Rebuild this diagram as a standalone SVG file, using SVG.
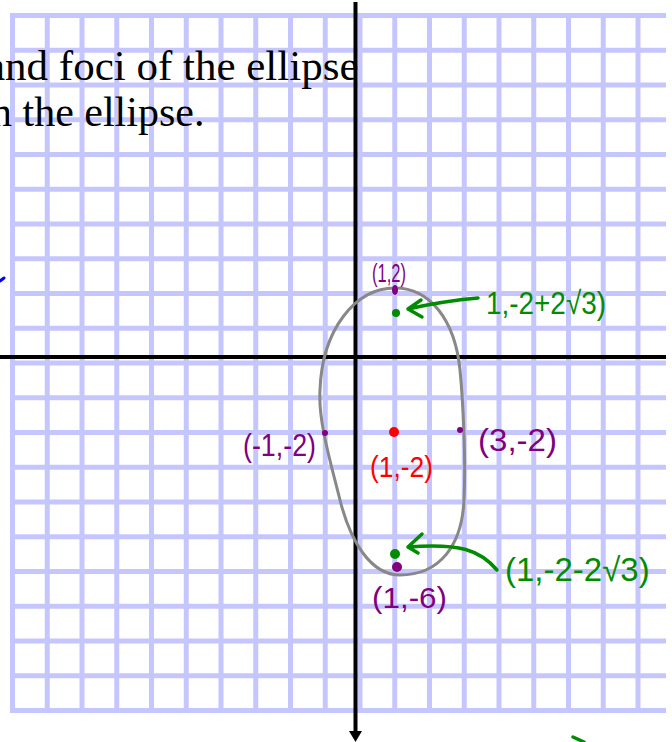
<svg xmlns="http://www.w3.org/2000/svg" width="672" height="742" viewBox="0 0 672 742">
<style>
.grid line{stroke:#c6c6ff;stroke-width:5}
.axis{stroke:#000;stroke-width:4}
.q{font-family:"Liberation Serif","Times New Roman",serif;fill:#000}
.h{font-family:"Liberation Sans",Arial,sans-serif}
.pur{fill:#800080}
.grn{fill:#008c00}
.red{fill:#ff0000}
.garrow{fill:none;stroke:#008c00;stroke-width:3.5;stroke-linecap:round;stroke-linejoin:round}
</style>
<rect width="672" height="742" fill="#fff"/>
<g id="grid" class="grid">
<line x1="12.5" y1="13" x2="12.5" y2="713"/>
<line x1="47.25" y1="13" x2="47.25" y2="713"/>
<line x1="82" y1="13" x2="82" y2="713"/>
<line x1="116.75" y1="13" x2="116.75" y2="713"/>
<line x1="151.5" y1="13" x2="151.5" y2="713"/>
<line x1="186.25" y1="13" x2="186.25" y2="713"/>
<line x1="221" y1="13" x2="221" y2="713"/>
<line x1="255.75" y1="13" x2="255.75" y2="713"/>
<line x1="290.5" y1="13" x2="290.5" y2="713"/>
<line x1="325.25" y1="13" x2="325.25" y2="713"/>
<line x1="360" y1="13" x2="360" y2="713"/>
<line x1="394.75" y1="13" x2="394.75" y2="713"/>
<line x1="429.5" y1="13" x2="429.5" y2="713"/>
<line x1="464.25" y1="13" x2="464.25" y2="713"/>
<line x1="499" y1="13" x2="499" y2="713"/>
<line x1="533.75" y1="13" x2="533.75" y2="713"/>
<line x1="568.5" y1="13" x2="568.5" y2="713"/>
<line x1="603.25" y1="13" x2="603.25" y2="713"/>
<line x1="638" y1="13" x2="638" y2="713"/>
<line x1="10" y1="15.5" x2="666" y2="15.5"/>
<line x1="10" y1="50.25" x2="666" y2="50.25"/>
<line x1="10" y1="85" x2="666" y2="85"/>
<line x1="10" y1="119.75" x2="666" y2="119.75"/>
<line x1="10" y1="154.5" x2="666" y2="154.5"/>
<line x1="10" y1="189.25" x2="666" y2="189.25"/>
<line x1="10" y1="224" x2="666" y2="224"/>
<line x1="10" y1="258.75" x2="666" y2="258.75"/>
<line x1="10" y1="293.5" x2="666" y2="293.5"/>
<line x1="10" y1="328.25" x2="666" y2="328.25"/>
<line x1="10" y1="363" x2="666" y2="363"/>
<line x1="10" y1="397.75" x2="666" y2="397.75"/>
<line x1="10" y1="432.5" x2="666" y2="432.5"/>
<line x1="10" y1="467.25" x2="666" y2="467.25"/>
<line x1="10" y1="502" x2="666" y2="502"/>
<line x1="10" y1="536.75" x2="666" y2="536.75"/>
<line x1="10" y1="571.5" x2="666" y2="571.5"/>
<line x1="10" y1="606.25" x2="666" y2="606.25"/>
<line x1="10" y1="641" x2="666" y2="641"/>
<line x1="10" y1="675.75" x2="666" y2="675.75"/>
<line x1="10" y1="710.5" x2="666" y2="710.5"/>
</g>
<g id="question">
<text class="q" x="-14" y="80" font-size="43">and foci of the ellipse</text>
<text class="q" x="-9" y="126" font-size="42">n the ellipse.</text>
</g>
<g id="axes">
<line class="axis" x1="0" y1="357" x2="666" y2="357"/>
<line class="axis" x1="355.5" y1="2" x2="355.5" y2="733"/>
<polygon points="349,731 362,731 355.5,742" fill="#000"/>
</g>
<g id="ellipse">
<path d="M395 288 C430 288 455 320 460 370 C463 400 466 460 464 500 C462 545 440 575 400 575 C370 575 350 540 340 500 C330 460 318 420 320 390 C322 330 355 288 395 288 Z" fill="none" stroke="#888" stroke-width="3"/>
</g>
<g id="vertex-top">
<ellipse cx="395" cy="290" rx="3" ry="5" class="pur"/>
<text class="h pur" x="372" y="282" font-size="26" textLength="34" lengthAdjust="spacingAndGlyphs">(1,2)</text>
</g>
<g id="focus-top">
<circle cx="396" cy="313" r="4" class="grn"/>
<text class="h grn" x="486" y="314" font-size="32" textLength="120" lengthAdjust="spacingAndGlyphs">1,-2+2√3)</text>
</g>
<g id="covertex-left">
<circle cx="325" cy="433" r="3" class="pur"/>
<text class="h pur" x="243" y="456" font-size="32" textLength="73" lengthAdjust="spacingAndGlyphs">(-1,-2)</text>
</g>
<g id="center">
<circle cx="394" cy="432" r="5" class="red"/>
<text class="h red" x="370" y="477" font-size="30" textLength="63" lengthAdjust="spacingAndGlyphs">(1,-2)</text>
</g>
<g id="covertex-right">
<circle cx="460" cy="430" r="3" class="pur"/>
<text class="h pur" x="478" y="451" font-size="32" textLength="79" lengthAdjust="spacingAndGlyphs">(3,-2)</text>
</g>
<g id="focus-bottom">
<circle cx="395" cy="554" r="5" class="grn"/>
<text class="h grn" x="505" y="581" font-size="33">(1,-2-2√3)</text>
</g>
<g id="vertex-bottom">
<ellipse cx="397" cy="567" rx="5" ry="5" class="pur"/>
<text class="h pur" x="372" y="608" font-size="30" textLength="75" lengthAdjust="spacingAndGlyphs">(1,-6)</text>
</g>
<g id="connectors">
<path class="garrow" d="M478 298 C455 300 430 304 408 309 M421 300 L408 309 L422 317"/>
<path class="garrow" d="M497 570 C480 550 460 543 408 547 M422 534 L408 547 L418 553"/>
</g>
<g id="marks">
<path d="M0 281 L4 278" stroke="#0000ff" stroke-width="3" stroke-linecap="round"/>
<path d="M573 737 L584 742" stroke="#008c00" stroke-width="3.5" stroke-linecap="round"/>
</g>
</svg>
